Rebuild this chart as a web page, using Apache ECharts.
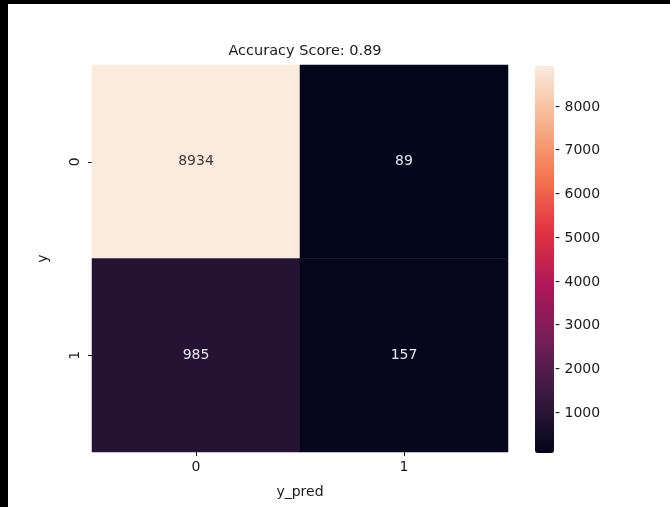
<!DOCTYPE html>
<html>
<head>
<meta charset="utf-8">
<script src="https://cdn.jsdelivr.net/npm/echarts@6/dist/echarts.min.js"></script>
<style>
  html, body { margin: 0; padding: 0; background: #fff; }
  #chartContainer { width: 670px; height: 507px; }
</style>
</head>
<body>
<div id="chartContainer"></div>
<script>
var predLabels = ['0', '1'];
var trueLabels = ['0', '1'];
// rows = y (true), cols = y_pred
var row0 = [8934, 89];
var row1 = [985, 157];
var colorbarTicks = [1000, 2000, 3000, 4000, 5000, 6000, 7000, 8000];
var rocket = ['#03051a', '#35193e', '#701f57', '#ad1759', '#e13342', '#f37651', '#f6b48f', '#faebdd'];

var rows = [row0, row1];
var all = row0.concat(row1);
var vmin = Math.min.apply(null, all);
var vmax = Math.max.apply(null, all);

var data = [];
rows.forEach(function (r, i) {
    r.forEach(function (v, j) {
        var light = (v - vmin) / (vmax - vmin) > 0.6;
        data.push({ value: [j, i, v], label: { color: light ? '#3a3a3a' : '#e8e8ee' } });
    });
});

var font = 'DejaVu Sans';
var fs = 14;
var ink = '#1a1a1a';
var chart = echarts.init(document.getElementById('chartContainer'));

chart.setOption({
    animation: false,
    textStyle: { fontFamily: font },
    title: {
        text: 'Accuracy Score: 0.89',
        left: 300,
        textAlign: 'center',
        top: 39,
        textStyle: { fontFamily: font, fontSize: 14.5, fontWeight: 'normal', color: ink }
    },
    grid: [
        { left: 92, right: 162, top: 65, bottom: 55 },
        { left: 535, width: 19, top: 66, height: 387 }
    ],
    xAxis: [{
        type: 'category',
        data: predLabels,
        gridIndex: 0,
        name: 'y_pred',
        nameLocation: 'middle',
        nameGap: 33,
        nameTextStyle: { fontFamily: font, fontSize: fs, color: ink },
        axisLine: { show: false },
        axisTick: { show: true, alignWithLabel: true, length: 4, lineStyle: { color: ink } },
        axisLabel: { fontFamily: font, fontSize: fs, color: ink, margin: 8 },
        splitLine: { show: false }
    }, {
        type: 'value',
        gridIndex: 1,
        show: false
    }],
    yAxis: [{
        type: 'category',
        data: trueLabels,
        inverse: true,
        gridIndex: 0,
        name: 'y',
        nameLocation: 'middle',
        nameGap: 42,
        nameRotate: 90,
        nameTextStyle: { fontFamily: font, fontSize: fs, color: ink },
        axisLine: { show: false },
        axisTick: { show: true, alignWithLabel: true, length: 4, lineStyle: { color: ink } },
        axisLabel: { fontFamily: font, fontSize: fs, color: ink, rotate: 90, margin: 10 },
        splitLine: { show: false }
    }, {
        type: 'value',
        gridIndex: 1,
        position: 'right',
        min: vmin,
        max: vmax,
        axisLine: { show: false },
        axisTick: { show: false },
        axisLabel: {
            fontFamily: font, fontSize: fs, color: ink, margin: 1,
            customValues: colorbarTicks,
            formatter: function (v) { return '- ' + v; }
        },
        splitLine: { show: false }
    }],
    visualMap: {
        type: 'continuous',
        min: vmin,
        max: vmax,
        dimension: 2,
        seriesIndex: 0,
        calculable: false,
        orient: 'vertical',
        left: 535,
        top: 66,
        padding: 0,
        itemWidth: 19,
        itemHeight: 387,
        text: null,
        showLabel: false,
        inRange: { color: rocket }
    },
    series: [{
        type: 'heatmap',
        xAxisIndex: 0,
        yAxisIndex: 0,
        data: data,
        label: {
            show: true,
            fontFamily: font,
            fontSize: fs,
            formatter: function (p) { return p.value[2]; }
        },
        itemStyle: { borderWidth: 0 }
    }],
    graphic: [
        { type: 'rect', left: 0, top: 0, shape: { width: 670, height: 4 }, style: { fill: '#000' } },
        { type: 'rect', left: 0, top: 0, shape: { width: 8, height: 507 }, style: { fill: '#000' } }
    ]
});
</script>
</body>
</html>
